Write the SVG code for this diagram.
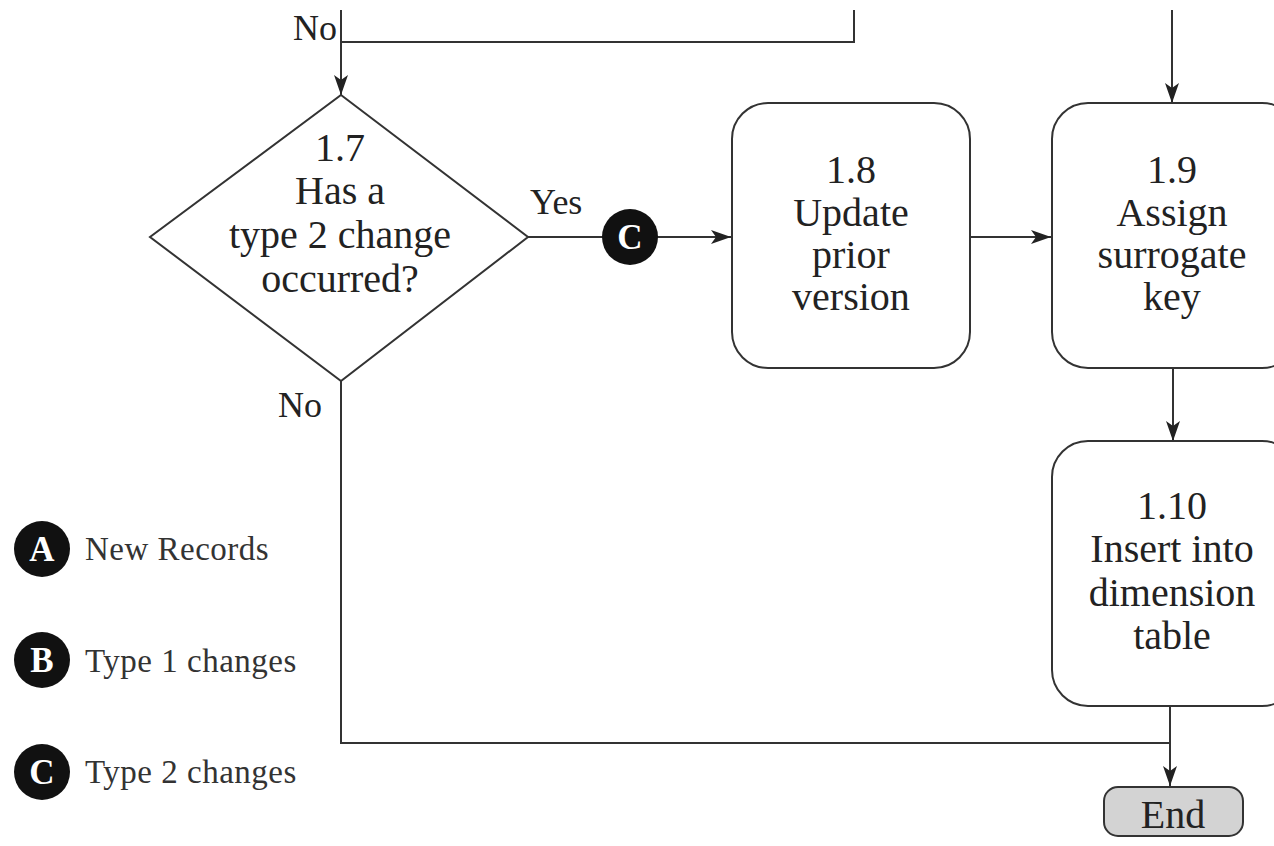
<svg xmlns="http://www.w3.org/2000/svg" width="1274" height="846" viewBox="0 0 1274 846">
  <style>
    .shape { fill: #ffffff; stroke: #333333; stroke-width: 2; }
    .endbox { fill: #d3d3d3; stroke: #333333; stroke-width: 2; }
    .line { fill: none; stroke: #333333; stroke-width: 2; }
    .lbl { font-family: "Liberation Serif", "DejaVu Serif", serif; font-size: 40px; fill: #222222; text-anchor: middle; }
    .edge { font-family: "Liberation Serif", "DejaVu Serif", serif; font-size: 36px; fill: #222222; }
    .leg { font-family: "Liberation Serif", "DejaVu Serif", serif; font-size: 33px; letter-spacing: 0.5px; fill: #333333; }
    .dot { fill: #111111; }
    .dotl { font-family: "Liberation Serif", "DejaVu Serif", serif; font-size: 35px; font-weight: bold; fill: #ffffff; text-anchor: middle; }
  </style>
  <defs>
    <marker id="arr" viewBox="0 0 20 14" refX="20" refY="7" markerWidth="20" markerHeight="14" markerUnits="userSpaceOnUse" orient="auto">
      <path d="M0,0 L20,7 L0,14 L5,7 Z" fill="#222222"/>
    </marker>
  </defs>
  <rect width="1274" height="846" fill="#ffffff"/>

  <g id="connectors">
    <polyline class="line" points="854,10 854,42 341,42"/>
    <line class="line" x1="341" y1="10" x2="341" y2="95" marker-end="url(#arr)"/>
    <text class="edge" x="337" y="40" text-anchor="end">No</text>
    <line class="line" x1="528" y1="237" x2="731" y2="237" marker-end="url(#arr)"/>
    <text class="edge" x="530" y="214">Yes</text>
    <line class="line" x1="970" y1="237" x2="1051" y2="237" marker-end="url(#arr)"/>
    <line class="line" x1="1172" y1="10" x2="1172" y2="103" marker-end="url(#arr)"/>
    <line class="line" x1="1173" y1="368" x2="1173" y2="441" marker-end="url(#arr)"/>
    <polyline class="line" points="341,381 341,743 1170,743"/>
    <text class="edge" x="322" y="417" text-anchor="end">No</text>
    <line class="line" x1="1170" y1="706" x2="1170" y2="786" marker-end="url(#arr)"/>
  </g>

  <g id="connector-c">
    <circle class="dot" cx="630" cy="237" r="28"/>
    <text class="dotl" x="630" y="249">C</text>
  </g>

  <g id="n17">
    <polygon class="shape" points="341,95 528,237 341,381 150,237"/>
    <text class="lbl" x="340" y="161">1.7</text>
    <text class="lbl" x="340" y="204">Has a</text>
    <text class="lbl" x="340" y="248">type 2 change</text>
    <text class="lbl" x="340" y="292">occurred?</text>
  </g>

  <g id="n18">
    <rect class="shape" x="732" y="103" width="238" height="265" rx="36" ry="36"/>
    <text class="lbl" x="851" y="183">1.8</text>
    <text class="lbl" x="851" y="226">Update</text>
    <text class="lbl" x="851" y="268">prior</text>
    <text class="lbl" x="851" y="310">version</text>
  </g>

  <g id="n19">
    <rect class="shape" x="1052" y="103" width="246" height="265" rx="36" ry="36"/>
    <text class="lbl" x="1172" y="183">1.9</text>
    <text class="lbl" x="1172" y="226">Assign</text>
    <text class="lbl" x="1172" y="268">surrogate</text>
    <text class="lbl" x="1172" y="310">key</text>
  </g>

  <g id="n110">
    <rect class="shape" x="1052" y="441" width="246" height="265" rx="36" ry="36"/>
    <text class="lbl" x="1172" y="519">1.10</text>
    <text class="lbl" x="1172" y="562">Insert into</text>
    <text class="lbl" x="1172" y="606">dimension</text>
    <text class="lbl" x="1172" y="649">table</text>
  </g>

  <g id="end">
    <rect class="endbox" x="1104" y="787" width="139" height="49" rx="14" ry="14"/>
    <text class="lbl" x="1173" y="828">End</text>
  </g>

  <g id="legend">
    <g id="legend-a">
      <circle class="dot" cx="42" cy="549" r="28"/>
      <text class="dotl" x="42" y="561">A</text>
      <text class="leg" x="85" y="560">New Records</text>
    </g>
    <g id="legend-b">
      <circle class="dot" cx="42" cy="660" r="28"/>
      <text class="dotl" x="42" y="672">B</text>
      <text class="leg" x="85" y="672">Type 1 changes</text>
    </g>
    <g id="legend-c">
      <circle class="dot" cx="42" cy="772" r="28"/>
      <text class="dotl" x="42" y="784">C</text>
      <text class="leg" x="85" y="783">Type 2 changes</text>
    </g>
  </g>
</svg>
